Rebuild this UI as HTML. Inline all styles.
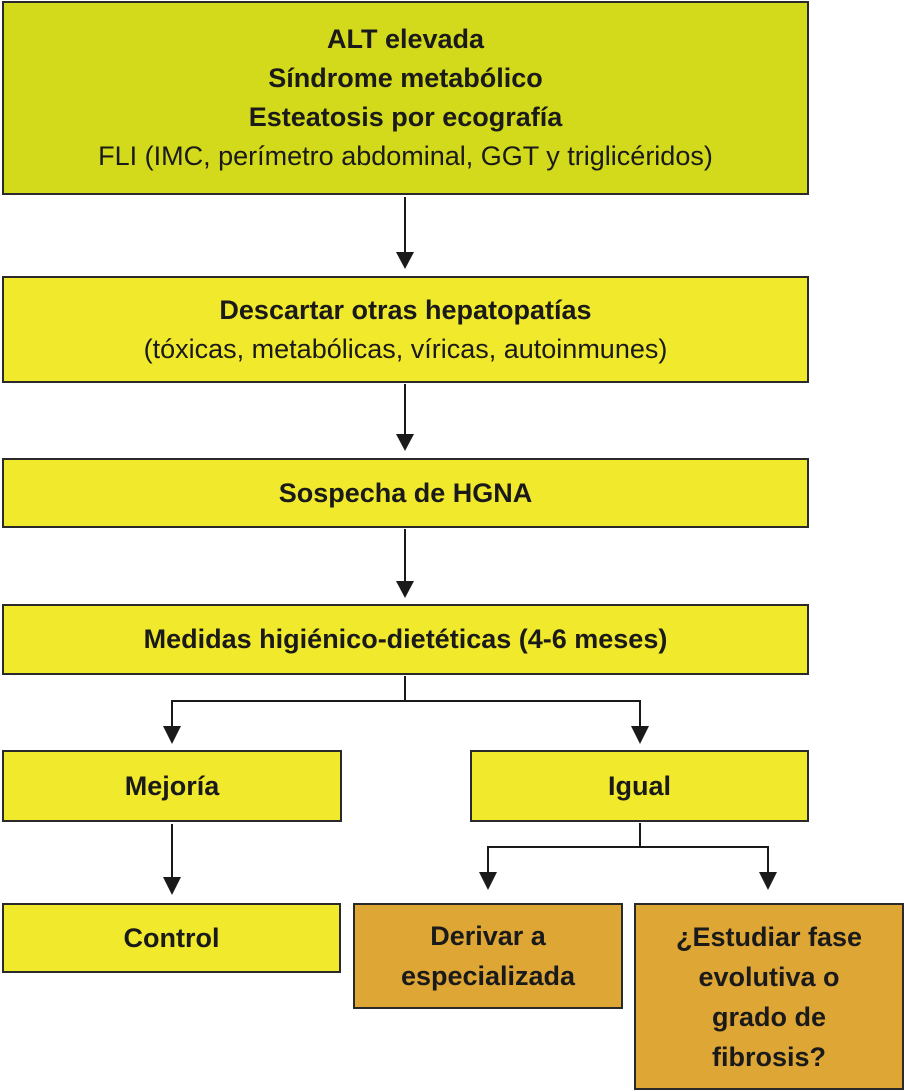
<!DOCTYPE html>
<html><head><meta charset="utf-8"><style>
body{margin:0;width:904px;height:1092px;background:#fff;position:relative;overflow:hidden;font-family:"Liberation Sans",Arial,sans-serif;color:#1a1a1a}
.b{position:absolute;box-sizing:border-box;border:2px solid #2a2a2a;background:#f0e92c;display:flex;flex-direction:column;justify-content:center;align-items:center;text-align:center;font-size:27px;line-height:39px;font-weight:bold}
.r{font-weight:normal}
.o{background:#dea634}
</style></head><body>
<div class="b" style="left:2px;top:1px;width:807px;height:194px;background:#d3d91b"><div>ALT elevada</div><div>Síndrome metabólico</div><div>Esteatosis por ecografía</div><div class="r">FLI (IMC, perímetro abdominal, GGT y triglicéridos)</div></div>
<div class="b" style="left:2px;top:276px;width:807px;height:107px"><div>Descartar otras hepatopatías</div><div class="r">(tóxicas, metabólicas, víricas, autoinmunes)</div></div>
<div class="b" style="left:2px;top:458px;width:807px;height:70px">Sospecha de HGNA</div>
<div class="b" style="left:2px;top:604px;width:807px;height:71px">Medidas higiénico-dietéticas (4-6 meses)</div>
<div class="b" style="left:2px;top:750px;width:340px;height:72px">Mejoría</div>
<div class="b" style="left:470px;top:750px;width:339px;height:72px">Igual</div>
<div class="b" style="left:2px;top:903px;width:339px;height:70px">Control</div>
<div class="b o" style="left:353px;top:903px;width:270px;height:106px;line-height:40px"><div>Derivar a</div><div>especializada</div></div>
<div class="b o" style="left:634px;top:903px;width:270px;height:187px;line-height:40px"><div>¿Estudiar fase</div><div>evolutiva o</div><div>grado de</div><div>fibrosis?</div></div>
<svg width="904" height="1092" style="position:absolute;left:0;top:0" fill="#1a1a1a" stroke="#1a1a1a" stroke-width="2">
<line x1="405" y1="197" x2="405" y2="255"/><polygon stroke="none" points="396,252 414,252 405,269"/>
<line x1="405" y1="384" x2="405" y2="437"/><polygon stroke="none" points="396,434 414,434 405,451"/>
<line x1="405" y1="529" x2="405" y2="584"/><polygon stroke="none" points="396,581 414,581 405,598"/>
<polyline fill="none" points="405,676 405,701 172,701 172,730"/>
<polyline fill="none" points="405,701 640,701 640,730"/>
<polygon stroke="none" points="163,726 181,726 172,744"/>
<polygon stroke="none" points="631,726 649,726 640,744"/>
<line x1="172" y1="824" x2="172" y2="880"/><polygon stroke="none" points="163,877 181,877 172,895"/>
<polyline fill="none" points="640,823 640,847 488,847 488,875"/>
<polyline fill="none" points="640,847 768,847 768,875"/>
<polygon stroke="none" points="479,872 497,872 488,890"/>
<polygon stroke="none" points="759,872 777,872 768,890"/>
</svg>
</body></html>
